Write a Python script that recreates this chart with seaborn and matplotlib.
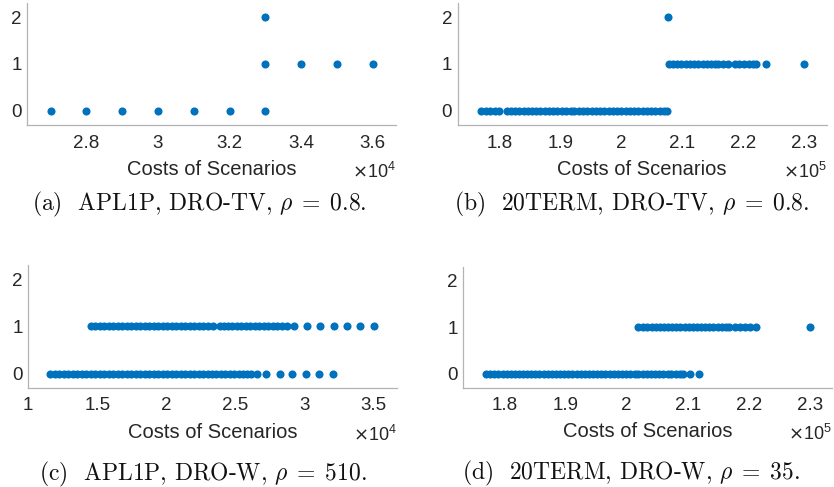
import numpy as np
import pandas as pd
import seaborn as sns
import matplotlib.pyplot as plt
from matplotlib.ticker import FuncFormatter

# APL1P, DRO-TV, rho = 0.8  (scenario costs grouped by count)
apl1p_tv_cost0 = [27000, 28000, 29000, 30000, 31000, 32000, 33000]
apl1p_tv_cost1 = [33000, 34000, 35000, 36000]
apl1p_tv_cost2 = [33000]

# 20TERM, DRO-TV, rho = 0.8
term_tv_cost0 = [177050, 177770, 178480, 179300, 180000, 181270, 181930, 182580,
                 183290, 184010, 184720, 185420, 186100, 186750, 187500, 188150,
                 188900, 189550, 190300, 190950, 191700, 192350, 193100, 193800,
                 194450, 195200, 195850, 196600, 197250, 198000, 198650, 199400,
                 200050, 200800, 201450, 202200, 202850, 203600, 204250, 205000,
                 205650, 206400, 207000, 207600]
term_tv_cost1 = [207830, 208500, 209200, 209900, 210600, 211300, 212000, 212700,
                 213400, 214100, 214800, 215450, 216000, 216700, 217620, 218650,
                 219450, 220250, 221050, 221750, 222120, 223810, 230050]
term_tv_cost2 = [207660]

# APL1P, DRO-W, rho = 510
apl1p_w_cost0 = [11570, 11940, 12250, 12600, 12900, 13250, 13550, 13900, 14200,
                 14550, 14850, 15200, 15500, 15850, 16150, 16500, 16800, 17150,
                 17450, 17800, 18100, 18450, 18750, 19100, 19400, 19750, 20050,
                 20400, 20700, 21050, 21350, 21700, 22000, 22350, 22650, 23000,
                 23300, 23650, 23950, 24300, 24600, 24950, 25250, 25550, 25840,
                 26130, 26560, 27230, 28220, 29160, 30140, 31100, 32080]
apl1p_w_cost1 = [14530, 14850, 15200, 15500, 15850, 16150, 16500, 16800, 17150,
                 17450, 17800, 18100, 18450, 18750, 19100, 19400, 19750, 20050,
                 20400, 20700, 21050, 21350, 21700, 22000, 22350, 22650, 23000,
                 23420, 23900, 24200, 24480, 24800, 25150, 25450, 25800, 26100,
                 26450, 26750, 27100, 27400, 27750, 28050, 28400, 28740, 29250,
                 30230, 31190, 32150, 33100, 34080, 35100]

# 20TERM, DRO-W, rho = 35
term_w_cost0 = [177060, 177700, 178350, 179000, 179800, 180450, 181150, 181800,
                182450, 183100, 183750, 184400, 185100, 185750, 186450, 187100,
                187800, 188450, 189150, 189800, 190500, 191150, 191850, 192500,
                193200, 193850, 194550, 195200, 195900, 196550, 197250, 197900,
                198600, 199250, 199950, 200600, 201300, 201950, 202650, 203300,
                204000, 204650, 205350, 206000, 206700, 207350, 208050, 208750,
                209300, 210380, 211900]
term_w_cost1 = [201920, 202740, 203400, 204100, 204750, 205450, 206100, 206800,
                207450, 208150, 208800, 209500, 210150, 210850, 211500, 212200,
                212850, 213550, 214200, 214900, 215550, 216250, 216700, 217740,
                218560, 219380, 220200, 221180, 230000]

panels = [
    ([apl1p_tv_cost0, apl1p_tv_cost1, apl1p_tv_cost2], 4,
     (26350, 36650), np.arange(28000, 36001, 2000),
     r'(a)  APL1P, DRO-TV, $\rho\;=\;0.8$.'),
    ([term_tv_cost0, term_tv_cost1, term_tv_cost2], 5,
     (173170, 233780), np.arange(180000, 230001, 10000),
     r'(b)  20TERM, DRO-TV, $\rho\;=\;0.8$.'),
    ([apl1p_w_cost0, apl1p_w_cost1], 4,
     (10000, 36720), np.arange(10000, 35001, 5000),
     r'(c)  APL1P, DRO-W, $\rho\;=\;510$.'),
    ([term_w_cost0, term_w_cost1], 5,
     (173300, 233550), np.arange(180000, 230001, 10000),
     r'(d)  20TERM, DRO-W, $\rho\;=\;35$.'),
]

# axes boxes in pixels: left, right, top, bottom ; caption centre x, baseline y
W, H = 834, 487
boxes = [(27.3, 396, 3, 125), (457.7, 826.7, 3, 125),
         (28.3, 396.7, 265, 387.7), (463.3, 831.7, 267, 387.7)]
captions = [(199, 210), (632, 210), (203, 480), (631, 479)]

sns.set_style('white')
plt.rcParams['font.family'] = ['Liberation Sans', 'DejaVu Sans']

fig = plt.figure(figsize=(W / 100, H / 100), dpi=100)
blue = '#0072BD'
grey = '#b3b3b3'

for (groups, exp, xlim, xticks, cap), (l, r, t, b), (cx, cy) in zip(panels, boxes, captions):
    ax = fig.add_axes([l / W, 1 - b / H, (r - l) / W, (b - t) / H])
    df = pd.concat([pd.DataFrame({'cost': g, 'count': k}) for k, g in enumerate(groups)])
    sns.scatterplot(data=df, x='cost', y='count', ax=ax, color=blue, s=34,
                    linewidth=0, legend=False)
    ax.set_xlim(*xlim)
    ax.set_ylim(-0.3, 2.3)
    ax.set_xticks(xticks)
    ax.set_yticks([0, 1, 2])
    scale = 10 ** exp
    ax.xaxis.set_major_formatter(FuncFormatter(lambda v, p, s=scale: f'{v / s:g}'))
    ax.set_ylabel('')
    ax.set_xlabel('Costs of Scenarios', fontsize=14.5, color='#262626')
    ax.xaxis.set_label_coords(0.5, -0.285)
    for side in ['top', 'right']:
        ax.spines[side].set_visible(False)
    for side in ['left', 'bottom']:
        ax.spines[side].set_color(grey)
        ax.spines[side].set_linewidth(0.9)
    ax.tick_params(direction='in', length=3, width=0.7, color=grey,
                   labelcolor='#262626', labelsize=13.5)
    ax.tick_params(axis='x', pad=7)
    ax.tick_params(axis='y', pad=4)
    ax.text(1.0, -0.30, r'$\times\mathregular{10^{%d}}$' % exp, transform=ax.transAxes,
            ha='right', va='top', fontsize=13, color='#262626')
    fig.text(cx / W, 1 - cy / H, cap, family='cmr10', math_fontfamily='cm',
             fontsize=17, ha='center', va='baseline', color='#111111')

fig.savefig('out.png', dpi=100)
